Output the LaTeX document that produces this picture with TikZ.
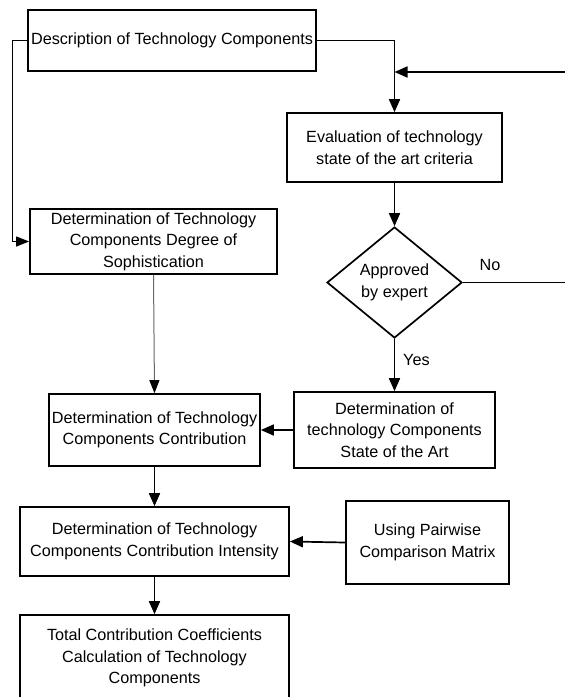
\documentclass[tikz,border=0pt]{standalone}
\usepackage{fontspec}
\setmainfont{Liberation Sans}
\usetikzlibrary{shapes.geometric,arrows.meta}
\begin{document}
\begin{tikzpicture}[x=1pt,y=-1pt,
  box/.style={draw, line width=1.7pt, align=center, inner sep=0pt,
    font=\fontsize{16.2}{21.5}\selectfont},
  dec/.style={draw, diamond, line width=1.7pt, align=center, inner sep=0pt,
    font=\fontsize{16.2}{21.5}\selectfont},
  lbl/.style={font=\fontsize{16.2}{19}\selectfont, inner sep=0pt},
  conn/.style={line width=1.7pt},
  arr/.style={line width=1.7pt, -{Triangle[length=13pt,width=11pt]}},
  thinarr/.style={line width=1pt, -{Triangle[length=13pt,width=10pt]}},
  grayarr/.style={line width=1pt, draw=black!60, -{Triangle[length=13pt,width=10pt,fill=black,color=black]}}
]
\useasboundingbox (0,0) rectangle (565,697);
\clip (0,0) rectangle (565,697);
\node[box, minimum width=288pt, minimum height=61pt] (b1) at (172,40.5) {Description of Technology Components};
\node[box, minimum width=215pt, minimum height=69pt] (b2) at (394.5,147.5) {Evaluation of technology\\state of the art criteria};
\node[dec, minimum width=135pt, minimum height=111pt] (d) at (394.5,282.5) {Approved\\by expert};
\node[box, minimum width=247pt, minimum height=65pt] (b3) at (153.5,241.5) {Determination of Technology\\Components Degree of\\Sophistication};
\node[box, minimum width=211pt, minimum height=72pt] (b4) at (154.5,430) {Determination of Technology\\Components Contribution};
\node[box, minimum width=201pt, minimum height=76pt] (b5) at (394.5,430) {Determination of\\technology Components\\State of the Art};
\node[box, minimum width=269pt, minimum height=69pt] (b6) at (154.5,541.5) {Determination of Technology\\Components Contribution Intensity};
\node[box, minimum width=163pt, minimum height=83pt] (b7) at (427.5,542.5) {Using Pairwise\\Comparison Matrix};
\node[box, minimum width=269pt, minimum height=86pt] (b8) at (154.5,658) {Total Contribution Coefficients\\Calculation of Technology\\Components};

\coordinate (fb) at (565,72);
\coordinate (no) at (565,282.5);
\coordinate (lx) at (12,40.5);

\draw[arr] (b1.east) -| (b2.north);
\draw[arr] (fb) -- (b2.north |- fb);
\draw[conn] (d.east) -- (no);
\node[lbl] (nol) at (490,265) {No};
\draw[arr] (b2.south) -- (d.north);
\draw[arr] (d.south) -- (b5.north);
\node[lbl, anchor=west] (yesl) at (403,360) {Yes};
\draw[thinarr] (b1.west) -- (lx) |- (b3.west);
\draw[grayarr] (b3.south) -- (b4.north);
\draw[arr] (b5.west) -- (b4.east);
\draw[arr] (b4.south) -- (b6.north);
\draw[arr] (b7.west) -- (b6.east);
\draw[arr] (b6.south) -- (b8.north);
\end{tikzpicture}
\end{document}
